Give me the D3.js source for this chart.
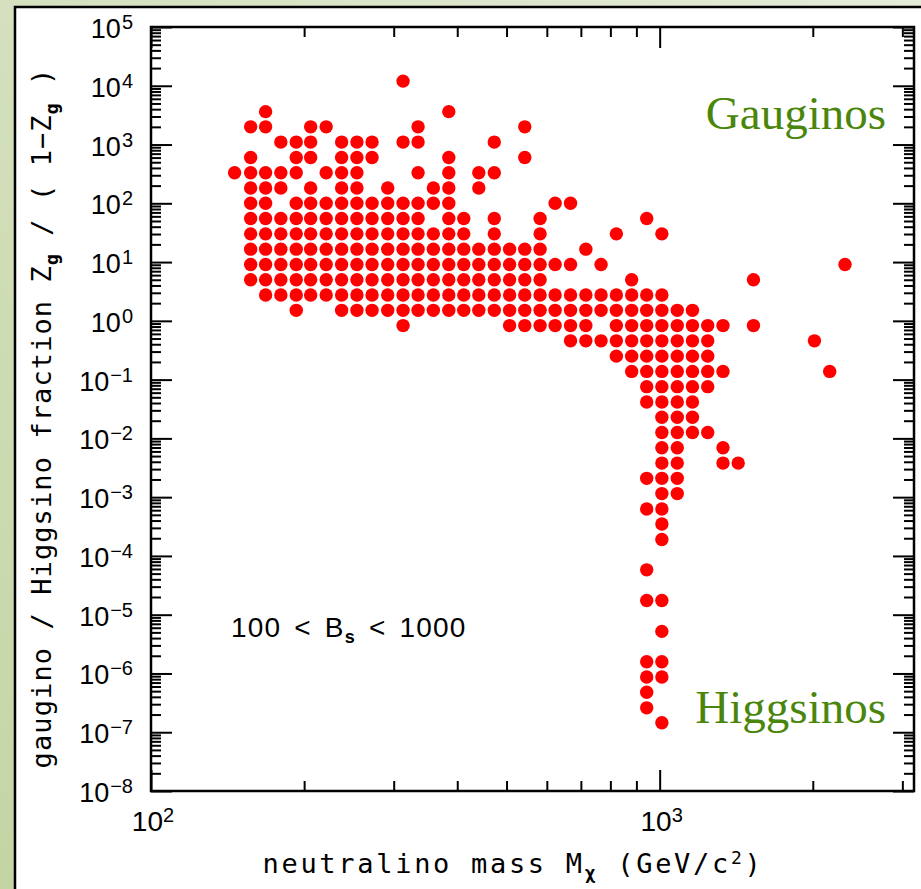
<!DOCTYPE html>
<html>
<head>
<meta charset="utf-8">
<script src="https://cdnjs.cloudflare.com/ajax/libs/d3/7.8.5/d3.min.js"></script>
<style>
body { margin: 0; }
svg { display: block; }
</style>
</head>
<body>
<script>
var width = 921;
var height = 889;
var plotLeft = 151, plotTop = 27, plotRight = 914, plotBottom = 791;

// neutralino mass of each grid column (GeV/c^2)
var massBins = [146, 157, 168, 180, 193, 206, 221, 237, 254, 272,
                292, 313, 335, 359, 385, 412, 441, 473, 507, 543,
                582, 623, 668, 716, 767, 822, 881, 943, 1010, 1083,
                1160, 1243, 1332, 1427, 1529, 1638, 1755, 1881, 2015, 2159, 2314];

// each row: gaugino/higgsino ratio, then the filled mass columns
var rows = [
  [1.2e4, [11]],
  [3630, [2, 14]],
  [2000, [1, 2, 5, 6, 12, 19]],
  [1100, [3, 4, 5, 7, 8, 9, 11, 12, 17]],
  [603, [1, 4, 5, 7, 8, 9, 14, 19]],
  [331, [0, 1, 2, 3, 4, 6, 7, 8, 12, 14, 16, 17]],
  [182, [1, 2, 3, 5, 7, 8, 10, 13, 14, 16]],
  [100, [1, 2, 4, 5, 6, 7, 8, 9, 10, 11, 12, 13, 14, 21, 22]],
  [55, [1, 2, 3, 4, 5, 6, 7, 8, 9, 10, 11, 12, 14, 15, 17, 20, 27]],
  [30.2, [1, 2, 3, 4, 5, 6, 7, 8, 9, 10, 11, 12, 13, 14, 15, 17, 20, 25, 28]],
  [16.6, [1, 2, 3, 4, 5, 6, 7, 8, 9, 10, 11, 12, 13, 14, 15, 16, 17, 18, 19, 20, 23]],
  [9.12, [1, 2, 3, 4, 5, 6, 7, 8, 9, 10, 11, 12, 13, 14, 15, 16, 17, 18, 19, 20, 21, 22, 24, 40]],
  [5.01, [1, 2, 3, 4, 5, 6, 7, 8, 9, 10, 11, 12, 13, 14, 15, 16, 17, 18, 19, 20, 26, 34]],
  [2.75, [2, 3, 4, 5, 6, 7, 8, 9, 10, 11, 12, 13, 14, 15, 16, 17, 18, 19, 20, 21, 22, 23, 24, 25, 26, 27, 28]],
  [1.51, [4, 7, 8, 9, 10, 11, 12, 13, 14, 15, 16, 17, 18, 19, 20, 21, 22, 23, 24, 25, 26, 27, 28, 29, 30]],
  [0.83, [11, 18, 19, 20, 21, 22, 23, 25, 26, 27, 28, 29, 30, 31, 32, 34]],
  [0.457, [22, 23, 24, 25, 26, 27, 28, 29, 30, 31, 38]],
  [0.251, [25, 26, 27, 28, 29, 30, 31]],
  [0.138, [26, 27, 28, 29, 30, 31, 32, 39]],
  [0.0759, [27, 28, 29, 30, 31]],
  [0.0417, [27, 28, 29, 30]],
  [0.0229, [28, 29, 30]],
  [0.0126, [28, 29, 30, 31]],
  [0.00692, [28, 29, 32]],
  [0.0038, [28, 29, 32, 33]],
  [0.00209, [27, 28, 29]],
  [0.00115, [28, 29]],
  [6.3e-4, [27, 28]],
  [3.5e-4, [28]],
  [1.9e-4, [28]],
  [5.8e-5, [27]],
  [1.74e-5, [27, 28]],
  [5.2e-6, [28]],
  [1.58e-6, [27, 28]],
  [8.7e-7, [27, 28]],
  [4.8e-7, [27]],
  [2.6e-7, [27]],
  [1.45e-7, [28]]
];

var yExponents = [5, 4, 3, 2, 1, 0, -1, -2, -3, -4, -5, -6, -7, -8];
var xExponents = [2, 3];
var xMinorTicks = [200, 300, 400, 500, 600, 700, 800, 900, 2000, 3000];

var points = [];
rows.forEach(function(r) {
  r[1].forEach(function(c) { points.push({ m: massBins[c], z: r[0] }); });
});

var svg = d3.select("body").append("svg")
  .attr("width", width)
  .attr("height", height);

// green background
var defs = svg.append("defs");
var grad = defs.append("linearGradient").attr("id", "bg")
  .attr("x1", "1").attr("y1", "0").attr("x2", "0").attr("y2", "1");
grad.append("stop").attr("offset", "0").attr("stop-color", "#e4ebd8");
grad.append("stop").attr("offset", "1").attr("stop-color", "#c4d5a4");
svg.append("rect").attr("width", width).attr("height", height).attr("fill", "url(#bg)");

// white panel
svg.append("rect")
  .attr("x", 15).attr("y", 7)
  .attr("width", width).attr("height", height)
  .attr("fill", "white")
  .attr("stroke", "black")
  .attr("stroke-width", 2.5);

var x = d3.scaleLog().domain([100, Math.pow(10, 3.5)]).range([plotLeft, plotRight]);
var y = d3.scaleLog().domain([1e-8, 1e5]).range([plotBottom, plotTop]);

var yMajor = yExponents.map(function(e) { return Math.pow(10, e); });
var yMinor = [];
yExponents.slice(1).forEach(function(e) {
  for (var m = 2; m <= 9; m++) yMinor.push(m * Math.pow(10, e));
});
var xMajor = xExponents.map(function(e) { return Math.pow(10, e); });

function tickAxis(axis, values, size, tx, ty) {
  var g = svg.append("g")
    .attr("transform", "translate(" + tx + "," + ty + ")")
    .call(axis.tickValues(values).tickSizeInner(size).tickSizeOuter(0).tickFormat(""));
  g.select(".domain").remove();
  g.selectAll("line").attr("stroke", "black").attr("stroke-width", 2);
}

tickAxis(d3.axisLeft(y), yMajor, -21, plotLeft, 0);
tickAxis(d3.axisLeft(y), yMinor, -10, plotLeft, 0);
tickAxis(d3.axisRight(y), yMajor, -21, plotRight, 0);
tickAxis(d3.axisRight(y), yMinor, -10, plotRight, 0);
tickAxis(d3.axisBottom(x), xMajor, -21, 0, plotBottom);
tickAxis(d3.axisBottom(x), xMinorTicks, -10, 0, plotBottom);
tickAxis(d3.axisTop(x), xMajor, -21, 0, plotTop);
tickAxis(d3.axisTop(x), xMinorTicks, -10, 0, plotTop);

svg.append("rect")
  .attr("x", plotLeft).attr("y", plotTop)
  .attr("width", plotRight - plotLeft).attr("height", plotBottom - plotTop)
  .attr("fill", "none")
  .attr("stroke", "black")
  .attr("stroke-width", 2.5);

// tick labels
var sans = "'Liberation Sans', Arial, sans-serif";
yExponents.forEach(function(e) {
  var t = svg.append("text")
    .attr("x", 133).attr("y", y(Math.pow(10, e)) + 11)
    .attr("text-anchor", "end")
    .attr("font-family", sans).attr("font-size", 27);
  t.append("tspan").text("10");
  t.append("tspan").attr("dx", 1).attr("dy", -9).attr("font-size", 20).text(e < 0 ? "\u2212" + (-e) : e);
});
xExponents.forEach(function(e) {
  var t = svg.append("text")
    .attr("x", x(Math.pow(10, e)) + 2).attr("y", 831)
    .attr("text-anchor", "middle")
    .attr("font-family", sans).attr("font-size", 28);
  t.append("tspan").text("10");
  t.append("tspan").attr("dy", -9).attr("font-size", 20).text(e);
});

// points
svg.append("g").selectAll("circle")
  .data(points)
  .enter().append("circle")
  .attr("cx", function(d) { return x(d.m); })
  .attr("cy", function(d) { return y(d.z); })
  .attr("r", 6.7)
  .attr("fill", "#ff0000");

// axis titles
var mono = "'DejaVu Sans Mono', monospace";
var xt = svg.append("text")
  .attr("x", 513).attr("y", 873)
  .attr("text-anchor", "middle")
  .attr("font-family", mono).attr("font-size", 27)
  .attr("letter-spacing", 2.7);
xt.append("tspan").text("neutralino mass M");
xt.append("tspan").attr("dy", 6).attr("font-size", 18).attr("font-weight", "bold").text("\u03c7");
xt.append("tspan").attr("dy", -6).text(" (GeV/c");
xt.append("tspan").attr("dy", -9).attr("font-size", 18).text("2");
xt.append("tspan").attr("dy", 9).text(")");

var yt = svg.append("text")
  .attr("transform", "translate(51,418) rotate(-90)")
  .attr("text-anchor", "middle")
  .attr("font-family", mono).attr("font-size", 27)
  .attr("letter-spacing", 1.1);
yt.append("tspan").text("gaugino / Higgsino fraction Z");
yt.append("tspan").attr("dy", 7).attr("font-size", 18).attr("font-weight", "bold").text("g");
yt.append("tspan").attr("dy", -7).text(" / ( 1\u2212Z");
yt.append("tspan").attr("dy", 7).attr("font-size", 18).attr("font-weight", "bold").text("g");
yt.append("tspan").attr("dy", -7).text(" )");

// annotations
var bt = svg.append("text")
  .attr("x", 231).attr("y", 637)
  .attr("font-family", sans).attr("font-size", 28)
  .attr("letter-spacing", 1.2)
  .attr("word-spacing", 4);
bt.append("tspan").text("100 < B");
bt.append("tspan").attr("dy", 6).attr("font-size", 18).attr("font-weight", "bold").text("s");
bt.append("tspan").attr("dy", -6).text(" < 1000");

svg.append("text")
  .attr("x", 886).attr("y", 129)
  .attr("text-anchor", "end")
  .attr("font-family", "'Liberation Serif', 'Times New Roman', serif")
  .attr("font-size", 47)
  .attr("fill", "#4a860c")
  .text("Gauginos");

svg.append("text")
  .attr("x", 886).attr("y", 723)
  .attr("text-anchor", "end")
  .attr("font-family", "'Liberation Serif', 'Times New Roman', serif")
  .attr("font-size", 47)
  .attr("fill", "#4a860c")
  .text("Higgsinos");
</script>
</body>
</html>
